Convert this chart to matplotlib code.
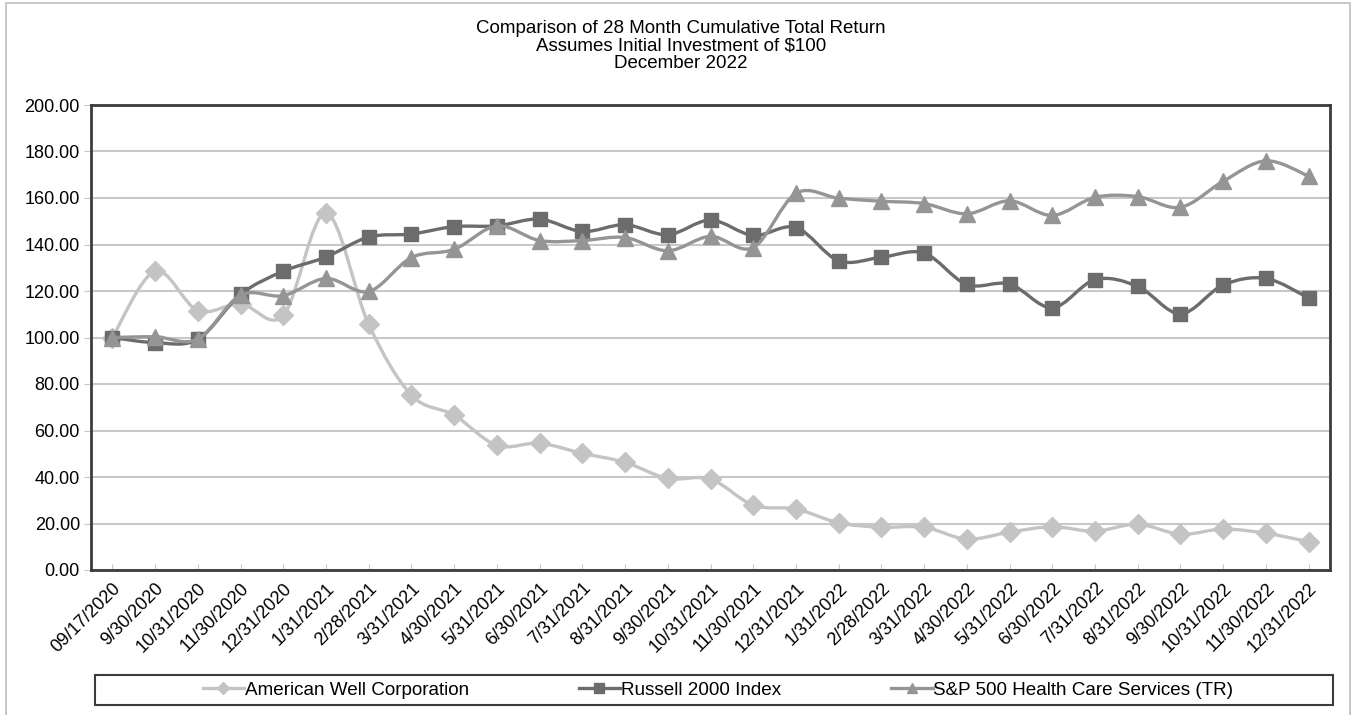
import matplotlib
matplotlib.use("Agg")
import matplotlib.pyplot as plt
import numpy as np
from matplotlib.path import Path
from matplotlib.patches import PathPatch, Rectangle
from matplotlib.lines import Line2D

plt.rcParams['font.family'] = ['Liberation Sans', 'DejaVu Sans']
fontsize = 13

dates = ["09/17/2020", "9/30/2020", "10/31/2020", "11/30/2020", "12/31/2020",
         "1/31/2021", "2/28/2021", "3/31/2021", "4/30/2021", "5/31/2021",
         "6/30/2021", "7/31/2021", "8/31/2021", "9/30/2021", "10/31/2021",
         "11/30/2021", "12/31/2021", "1/31/2022", "2/28/2022", "3/31/2022",
         "4/30/2022", "5/31/2022", "6/30/2022", "7/31/2022", "8/31/2022",
         "9/30/2022", "10/31/2022", "11/30/2022", "12/31/2022"]

amwl = [100.0, 128.5, 111.6, 114.5, 109.5, 153.5, 105.6, 75.2, 66.6, 53.6,
        54.5, 50.2, 46.3, 39.4, 39.1, 27.9, 26.2, 20.3, 18.4, 18.4,
        13.3, 16.3, 18.6, 16.7, 19.7, 15.4, 17.6, 15.8, 12.2]

russell = [100.0, 97.8, 99.2, 118.5, 128.5, 134.6, 143.2, 144.5, 147.7, 148.0,
           150.9, 145.6, 148.5, 144.2, 150.5, 143.9, 147.3, 133.0, 134.5, 136.3,
           122.8, 123.0, 112.8, 124.9, 122.0, 110.2, 122.6, 125.4, 117.0]

sp_hc = [100.0, 100.3, 99.3, 118.2, 118.0, 125.4, 119.8, 134.4, 137.9, 148.0,
         141.7, 141.7, 143.0, 137.3, 143.5, 138.7, 162.0, 159.9, 158.6, 157.6,
         153.2, 158.8, 152.5, 160.3, 160.6, 156.0, 167.2, 176.0, 169.4]

names = ["American Well Corporation", "Russell 2000 Index",
         "S&P 500 Health Care Services (TR)"]
title_lines = ["Comparison of 28 Month Cumulative Total Return",
               "Assumes Initial Investment of $100",
               "December 2022"]
colors = ["#c4c4c4", "#6c6c6c", "#959595"]
markers = ["D", "s", "^"]
msizes = [10, 9.5, 11]


# smooth line through the points, like the spreadsheet "smoothed line" option
def smooth_path(xs, ys, t=1.0 / 6):
    pts = np.column_stack([np.asarray(xs, float), np.asarray(ys, float)])
    verts = [pts[0]]
    codes = [Path.MOVETO]
    n = len(pts)
    for i in range(n - 1):
        p0 = pts[i - 1] if i > 0 else pts[i]
        p1 = pts[i]
        p2 = pts[i + 1]
        p3 = pts[i + 2] if i + 2 < n else pts[i + 1]
        verts += [p1 + (p2 - p0) * t, p2 - (p3 - p1) * t, p2]
        codes += [Path.CURVE4] * 3
    return Path(verts, codes)


W, H = 1356, 715
fig = plt.figure(figsize=(W / 100, H / 100), dpi=100)
ax = fig.add_axes([91 / W, 1 - 570 / H, (1330 - 91) / W, (570 - 105) / H])

# outer frame and legend box
fig.patches.append(Rectangle((6 / W, -0.01), (1350 - 6) / W, 1 - 3 / H + 0.01,
                             transform=fig.transFigure, fill=False,
                             edgecolor="#bdbdbd", linewidth=1.2))
fig.patches.append(Rectangle((95 / W, 1 - 705 / H), (1333 - 95) / W, 30 / H,
                             transform=fig.transFigure, fill=False,
                             edgecolor="#3c3c3c", linewidth=1.5))

x = np.arange(len(dates))
for i, vals in enumerate([amwl, russell, sp_hc]):
    patch = PathPatch(smooth_path(x, vals), fill=False, edgecolor=colors[i],
                      linewidth=2.4, zorder=3 + i, capstyle="round", joinstyle="round")
    ax.add_patch(patch)
    ax.plot(x, vals, linestyle="none", marker=markers[i], markersize=msizes[i],
            color=colors[i], markeredgecolor=colors[i], zorder=3 + i)

ax.set_xlim(-0.5, len(dates) - 0.5)
ax.set_ylim(0, 200)
yt = np.arange(0, 201, 20)
ax.set_yticks(yt)
ax.set_yticklabels(["%.2f" % v for v in yt], fontsize=fontsize)
ax.set_xticks(x)
ax.set_xticklabels(dates, rotation=45, ha="right", rotation_mode="anchor",
                   fontsize=fontsize)
ax.tick_params(axis="x", direction="in", length=4, color="#c8c8c8", pad=7)
ax.tick_params(axis="y", direction="out", length=5, color="#c8c8c8", pad=3)
ax.grid(True, axis="y", color="#c8c8c8", linewidth=1.5)
ax.set_axisbelow(True)
for s in ax.spines.values():
    s.set_color("#3c3c3c")
    s.set_linewidth(2)

for k, line in enumerate(title_lines):
    fig.text(0.502, 1 - (28.5 + 17.5 * k) / H, line, ha="center", va="center",
             fontsize=13.5)

handles = [Line2D([], [], color=colors[i], marker=markers[i], markersize=6.5,
                  linewidth=2.4) for i in range(3)]
leg = fig.legend(handles, names, loc="center", ncol=3,
                 bbox_to_anchor=(718 / W, 1 - 690 / H),
                 frameon=False, fontsize=13.6, handlelength=2.2,
                 handletextpad=0.05, columnspacing=5.8, borderaxespad=0)

fig.savefig("out.png", dpi=100)
